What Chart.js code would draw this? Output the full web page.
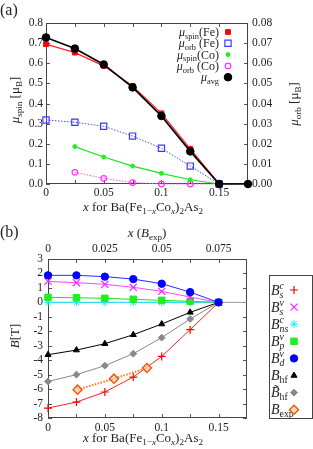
<!DOCTYPE html>
<html><head><meta charset="utf-8">
<script src="https://cdn.jsdelivr.net/npm/chart.js@4.4.0/dist/chart.umd.min.js"></script>
<style>
html,body{margin:0;padding:0;background:#fff;overflow:hidden;}
#wrapA{position:absolute;left:0;top:0;width:313px;height:215px;}
#wrapB{position:absolute;left:0;top:215px;width:313px;height:234px;}
canvas{display:block;}
</style></head><body>
<div id="wrapA"><canvas id="ca" width="313" height="215"></canvas></div>
<div id="wrapB"><canvas id="cb" width="313" height="234"></canvas></div>
<script>
// ---------- Panel (a) data ----------
const xA      = [0, 0.025, 0.05, 0.075, 0.1, 0.125, 0.15, 0.175];
const muAvg   = [0.728, 0.673, 0.594, 0.480, 0.338, 0.162, 0, 0];
const spinFe  = [0.695, 0.653, 0.587, 0.487, 0.351, 0.175, 0];
const orbFe   = [0.0318, 0.0307, 0.0287, 0.0238, 0.0178, 0.0089, 0];
const xCo     = [0.025, 0.05, 0.075, 0.1, 0.125, 0.15];
const spinCo  = [0.186, 0.134, 0.089, 0.053, 0.021, 0];
const orbCo   = [0.0058, 0.0028, 0.0007, 0, 0, 0];
const xTicksA  = [0, 0.025, 0.05, 0.075, 0.1, 0.125, 0.15];
const xLabelsA = [0, 0.05, 0.1, 0.15];
const yTicksA  = [0, 0.1, 0.2, 0.3, 0.4, 0.5, 0.6, 0.7, 0.8];
const y2TicksA = [0, 0.01, 0.02, 0.03, 0.04, 0.05, 0.06, 0.07, 0.08];

// ---------- Panel (b) data ----------
const xB    = [0, 0.025, 0.05, 0.075, 0.1, 0.125, 0.15];
const Bsc   = [-7.31, -6.90, -6.20, -5.17, -3.74, -1.89, 0];
const Bsv   = [1.45, 1.36, 1.25, 1.04, 0.76, 0.37, 0];
const Bnsc  = [0, 0, 0, 0, 0, 0, 0];
const Bpv   = [0.35, 0.32, 0.28, 0.21, 0.14, 0.07, 0];
const Bdv   = [1.87, 1.87, 1.78, 1.61, 1.29, 0.71, 0];
const Bhf   = [-3.62, -3.30, -2.86, -2.24, -1.50, -0.69, 0];
const BhfT  = [-5.47, -5.00, -4.38, -3.55, -2.44, -1.15, 0];
const xExp  = [0.013, 0.029, 0.0435];     // on the top axis x (B_exp)
const Bexp  = [-6.04, -5.28, -4.54];
const zeroX = [0, 0.175];
const zeroY = [0, 0];
const xTicksB     = [0, 0.025, 0.05, 0.075, 0.1, 0.125, 0.15];
const xLabelsB    = [0, 0.05, 0.1, 0.15];
const xTopTicksB  = [0, 0.0125, 0.025, 0.0375, 0.05, 0.0625, 0.075];
const xTopLabelsB = [0, 0.025, 0.05, 0.075];
const yTicksB     = [-8, -7, -6, -5, -4, -3, -2, -1, 0, 1, 2, 3];

// ---------- helpers ----------
const FAM = '"Liberation Serif", "DejaVu Serif", serif';
const TXT = '#222';
const pts = (xs, ys) => ys.map((y, i) => ({x: xs[i], y}));
const fmtNum = v => String(Math.round(v * 10000) / 10000);
const near = (v, arr) => arr.some(a => Math.abs(a - v) < 1e-9);
function fnt(s, it) { return (it ? 'italic ' : '') + s.toFixed(2) + 'px ' + FAM; }

function richLayout(ctx, segs, S) {
  const ops = []; let w = 0;
  for (const s of segs) {
    if (s.t !== undefined) {
      const f = fnt(S, s.i); ctx.font = f;
      ops.push({t: s.t, f, dx: w, dy: 0});
      w += ctx.measureText(s.t).width;
    } else {
      const ss = S * 0.7; let mw = 0;
      if (s.b !== undefined) { const f = fnt(ss, s.i); ctx.font = f; ops.push({t: s.b, f, dx: w, dy: S * 0.22}); mw = Math.max(mw, ctx.measureText(s.b).width); }
      if (s.p !== undefined) { const f = fnt(ss, s.i); ctx.font = f; ops.push({t: s.p, f, dx: w, dy: -S * 0.4}); mw = Math.max(mw, ctx.measureText(s.p).width); }
      w += mw;
    }
  }
  return {ops, w};
}
function drawRich(ctx, segs, x, y, S, align, rot) {
  ctx.save();
  ctx.translate(x, y);
  if (rot) ctx.rotate(rot);
  const L = richLayout(ctx, segs, S);
  const x0 = align === 'right' ? -L.w : (align === 'left' ? 0 : -L.w / 2);
  ctx.fillStyle = TXT; ctx.textAlign = 'left'; ctx.textBaseline = 'alphabetic';
  for (const o of L.ops) { ctx.font = o.f; ctx.fillText(o.t, x0 + o.dx, S * 0.33 + o.dy); }
  ctx.restore();
}
function drawMarker(ctx, ds, x, y) {
  ctx.save();
  ctx.fillStyle = ds.pointBackgroundColor || ds.backgroundColor;
  ctx.strokeStyle = ds.pointBorderColor || ds.borderColor;
  ctx.lineWidth = ds.pointBorderWidth || 1;
  Chart.helpers.drawPoint(ctx, {pointStyle: ds.pointStyle, radius: ds.pointRadius, rotation: 0, borderWidth: ds.pointBorderWidth || 1}, x, y);
  ctx.restore();
}

// Inward tick marks, plot frame, titles and legends
const decor = {
  id: 'decor',
  beforeDatasetsDraw(chart, args, opts) {
    const {ctx, chartArea: a, scales} = chart;
    ctx.save();
    ctx.strokeStyle = '#555'; ctx.lineWidth = 1;
    const L = 4;
    ctx.beginPath();
    for (const tk of opts.tickSides) {
      const sc = scales[tk.scale];
      for (const t of sc.ticks) {
        const p = Math.round(sc.getPixelForValue(t.value)) + 0.5;
        for (const side of tk.sides) {
          if (side === 'bottom') { ctx.moveTo(p, a.bottom); ctx.lineTo(p, a.bottom - L); }
          if (side === 'top')    { ctx.moveTo(p, a.top);    ctx.lineTo(p, a.top + L); }
          if (side === 'left')   { ctx.moveTo(a.left, p);   ctx.lineTo(a.left + L, p); }
          if (side === 'right')  { ctx.moveTo(a.right, p);  ctx.lineTo(a.right - L, p); }
        }
      }
    }
    ctx.stroke();
    ctx.strokeStyle = '#444';
    ctx.strokeRect(Math.round(a.left) + 0.5, Math.round(a.top) + 0.5, Math.round(a.right - a.left) - 1, Math.round(a.bottom - a.top) - 1);
    ctx.restore();
  },
  afterDraw(chart, args, opts) {
    const ctx = chart.ctx;
    for (const t of opts.titles) drawRich(ctx, t.segs, t.x, t.y, t.size, t.align || 'center', t.rot || 0);
    const lg = opts.legend;
    if (lg) {
      ctx.save();
      if (lg.box) {
        ctx.strokeStyle = '#444'; ctx.lineWidth = 1;
        ctx.strokeRect(lg.box[0] + 0.5, lg.box[1] + 0.5, lg.box[2], lg.box[3]);
      }
      lg.items.forEach((it, k) => {
        const y = lg.y0 + k * lg.dy;
        const ds = chart.data.datasets[it.ds];
        drawRich(ctx, it.segs, lg.textX, y, lg.size, lg.align, 0);
        drawMarker(ctx, ds, lg.markX, y);
      });
      ctx.restore();
    }
  }
};

function ticksFrom(arr) { return s => { s.ticks = arr.map(v => ({value: v})); }; }

Chart.defaults.font.family = FAM;
Chart.defaults.font.size = 11.5;
Chart.defaults.color = TXT;

const common = {
  responsive: false, animation: false, events: [],
  elements: {line: {tension: 0, fill: false}},
};
const noGrid = {display: false, drawTicks: false};

// ---------- Chart (a) ----------
const formulaSegs = [
  {t: 'x', i: 1}, {t: ' for Ba(Fe'}, {b: '1\u2212'}, {b: 'x', i: 1}, {t: 'Co'}, {b: 'x', i: 1},
  {t: ')'}, {b: '2'}, {t: 'As'}, {b: '2'}
];

new Chart(document.getElementById('ca'), {
  type: 'line',
  data: {
    datasets: [
      {label: 'avg', data: pts(xA, muAvg), yAxisID: 'y', borderColor: '#000', backgroundColor: '#000',
       pointBackgroundColor: '#000', pointBorderColor: '#000', borderWidth: 1.7, pointStyle: 'circle', pointRadius: 3.8, pointBorderWidth: 1, clip: false},
      {label: 'spinFe', data: pts(xA, spinFe), yAxisID: 'y', borderColor: '#ff2020', backgroundColor: '#ff0000',
       pointBackgroundColor: '#ff0000', pointBorderColor: '#ff0000', borderWidth: 1.2, pointStyle: 'rect', pointRadius: 3.4, pointBorderWidth: 1, clip: false},
      {label: 'orbFe', data: pts(xA, orbFe), yAxisID: 'y2', borderColor: '#4b4bff', backgroundColor: 'rgba(255,255,255,0)',
       pointBackgroundColor: 'rgba(255,255,255,0)', pointBorderColor: '#3a3aff', borderWidth: 1, borderDash: [1.5, 1.5],
       pointStyle: 'rect', pointRadius: 4.4, pointBorderWidth: 1.2, clip: false},
      {label: 'spinCo', data: pts(xCo, spinCo), yAxisID: 'y', borderColor: '#22dd22', backgroundColor: '#22ee22',
       pointBackgroundColor: '#22ee22', pointBorderColor: '#22ee22', borderWidth: 1.2, pointStyle: 'circle', pointRadius: 2, pointBorderWidth: 1, clip: false},
      {label: 'orbCo', data: pts(xCo, orbCo), yAxisID: 'y2', borderColor: '#ff55ff', backgroundColor: 'rgba(255,255,255,0)',
       pointBackgroundColor: 'rgba(255,255,255,0)', pointBorderColor: '#ff33ff', borderWidth: 1, borderDash: [1.5, 1.5],
       pointStyle: 'circle', pointRadius: 2.8, pointBorderWidth: 1.2, clip: false}
    ]
  },
  options: Object.assign({}, common, {
    layout: {padding: {top: 23, left: 0, right: 0, bottom: 0}},
    scales: {
      x: {type: 'linear', min: 0, max: 0.175, grid: noGrid, border: {display: false},
          afterBuildTicks: ticksFrom(xTicksA), afterFit: s => { s.height = 31; },
          ticks: {autoSkip: false, maxRotation: 0, padding: 2, callback: v => near(v, xLabelsA) ? fmtNum(v) : ''}},
      y: {type: 'linear', position: 'left', min: 0, max: 0.8, grid: noGrid, border: {display: false},
          afterBuildTicks: ticksFrom(yTicksA), afterFit: s => { s.width = 46; },
          ticks: {autoSkip: false, padding: 3, callback: v => v.toFixed(1)}},
      y2: {type: 'linear', position: 'right', min: 0, max: 0.08, grid: noGrid, border: {display: false},
          afterBuildTicks: ticksFrom(y2TicksA), afterFit: s => { s.width = 65; },
          ticks: {autoSkip: false, padding: 4, callback: v => v.toFixed(2)}}
    },
    plugins: {
      legend: {display: false}, tooltip: {enabled: false},
      decor: {
        tickSides: [{scale: 'x', sides: ['bottom', 'top']}, {scale: 'y', sides: ['left']}, {scale: 'y2', sides: ['right']}],
        titles: [
          {segs: [{t: '(a)'}], x: 0, y: 10, size: 16, align: 'left'},
          {segs: [{t: '\u03bc', i: 1}, {b: 'spin'}, {t: ' [\u03bc', i: 0}, {b: 'B'}, {t: ']'}], x: 15, y: 100, size: 13, rot: -Math.PI / 2},
          {segs: [{t: '\u03bc', i: 1}, {b: 'orb'}, {t: ' [\u03bc'}, {b: 'B'}, {t: ']'}], x: 294, y: 104, size: 13, rot: -Math.PI / 2},
          {segs: formulaSegs, x: 143, y: 207, size: 13}
        ],
        legend: {
          textX: 219, markX: 228, y0: 32, dy: 11.3, size: 12, align: 'right',
          items: [
            {ds: 1, segs: [{t: '\u03bc', i: 1}, {b: 'spin'}, {t: '(Fe)'}]},
            {ds: 2, segs: [{t: '\u03bc', i: 1}, {b: 'orb'}, {t: ' (Fe)'}]},
            {ds: 3, segs: [{t: '\u03bc', i: 1}, {b: 'spin'}, {t: '(Co)'}]},
            {ds: 4, segs: [{t: '\u03bc', i: 1}, {b: 'orb'}, {t: ' (Co)'}]},
            {ds: 0, segs: [{t: '\u03bc', i: 1}, {b: 'avg'}]}
          ]
        }
      }
    }
  }),
  plugins: [decor]
});

// ---------- Chart (b) ----------
new Chart(document.getElementById('cb'), {
  type: 'line',
  data: {
    datasets: [
      {label: 'Bdv', data: pts(xB, Bdv), borderColor: '#2a2aff', backgroundColor: '#0000ff', pointBackgroundColor: '#0000ff', pointBorderColor: '#0000ff',
       borderWidth: 1, pointStyle: 'circle', pointRadius: 3.7, pointBorderWidth: 1, clip: false},
      {label: 'Bsv', data: pts(xB, Bsv), borderColor: '#ff44ff', backgroundColor: '#ff22ff', pointBackgroundColor: '#ff22ff', pointBorderColor: '#ff22ff',
       borderWidth: 1, pointStyle: 'crossRot', pointRadius: 5, pointBorderWidth: 1.2, clip: false},
      {label: 'Bpv', data: pts(xB, Bpv), borderColor: '#22dd22', backgroundColor: '#22ee22', pointBackgroundColor: '#22ee22', pointBorderColor: '#22ee22',
       borderWidth: 1, pointStyle: 'rect', pointRadius: 4.6, pointBorderWidth: 1, clip: false},
      {label: 'Bnsc', data: pts(xB, Bnsc), borderColor: '#22e5ff', backgroundColor: '#22e5ff', pointBackgroundColor: '#22e5ff', pointBorderColor: '#22e5ff',
       borderWidth: 1, pointStyle: 'star', pointRadius: 4, pointBorderWidth: 1, clip: false},
      {label: 'Bexp', data: pts(xExp, Bexp), xAxisID: 'x2', borderColor: '#ff7a20', backgroundColor: 'rgba(255,200,160,0.6)',
       pointBackgroundColor: 'rgba(255,210,170,0.7)', pointBorderColor: '#f05a10', borderWidth: 2, borderDash: [1.5, 1.5],
       pointStyle: 'rectRot', pointRadius: 4.5, pointBorderWidth: 1.5, clip: false},
      {label: 'Bhf', data: pts(xB, Bhf), borderColor: '#000', backgroundColor: '#000', pointBackgroundColor: '#000', pointBorderColor: '#000',
       borderWidth: 1, pointStyle: 'triangle', pointRadius: 3.5, pointBorderWidth: 1, clip: false},
      {label: 'BhfT', data: pts(xB, BhfT), borderColor: '#888', backgroundColor: '#888', pointBackgroundColor: '#888', pointBorderColor: '#888',
       borderWidth: 1, pointStyle: 'rectRot', pointRadius: 3.4, pointBorderWidth: 1, clip: false},
      {label: 'Bsc', data: pts(xB, Bsc), borderColor: '#ff2020', backgroundColor: '#ff0000', pointBackgroundColor: '#ff0000', pointBorderColor: '#ff0000',
       borderWidth: 1, pointStyle: 'cross', pointRadius: 4, pointBorderWidth: 1.2, clip: false},
      {label: 'zero', data: pts(zeroX, zeroY), borderColor: '#999', borderWidth: 1, pointRadius: 0, clip: false}
    ]
  },
  options: Object.assign({}, common, {
    layout: {padding: {top: 0, left: 0, right: 66, bottom: 0}},
    scales: {
      x: {type: 'linear', position: 'bottom', min: 0, max: 0.175, grid: noGrid, border: {display: false},
          afterBuildTicks: ticksFrom(xTicksB), afterFit: s => { s.height = 31; },
          ticks: {autoSkip: false, maxRotation: 0, padding: 3, callback: v => near(v, xLabelsB) ? fmtNum(v) : ''}},
      x2: {type: 'linear', position: 'top', min: 0, max: 0.0875, grid: noGrid, border: {display: false},
          afterBuildTicks: ticksFrom(xTopTicksB), afterFit: s => { s.height = 44; },
          ticks: {autoSkip: false, maxRotation: 0, padding: 3, callback: v => near(v, xTopLabelsB) ? fmtNum(v) : ''}},
      y: {type: 'linear', position: 'left', min: -8, max: 3, grid: noGrid, border: {display: false},
          afterBuildTicks: ticksFrom(yTicksB), afterFit: s => { s.width = 48; },
          ticks: {autoSkip: false, padding: 5, callback: v => String(v)}}
    },
    plugins: {
      legend: {display: false}, tooltip: {enabled: false},
      decor: {
        tickSides: [{scale: 'x', sides: ['bottom']}, {scale: 'x2', sides: ['top']}, {scale: 'y', sides: ['left', 'right']}],
        titles: [
          {segs: [{t: '(b)'}], x: 0, y: 17, size: 16, align: 'left'},
          {segs: [{t: 'x', i: 1}, {t: ' ('}, {t: 'B', i: 1}, {b: 'exp'}, {t: ')'}], x: 147, y: 18, size: 13},
          {segs: [{t: 'B', i: 1}, {t: '[T]'}], x: 15, y: 121, size: 13, rot: -Math.PI / 2},
          {segs: formulaSegs, x: 143, y: 223, size: 13}
        ],
        legend: {
          box: [269, 60, 43, 143],
          textX: 271, markX: 294, y0: 75, dy: 17.1, size: 14, align: 'left',
          items: [
            {ds: 7, segs: [{t: 'B', i: 1}, {b: 's', p: 'c', i: 1}]},
            {ds: 1, segs: [{t: 'B', i: 1}, {b: 's', p: 'v', i: 1}]},
            {ds: 3, segs: [{t: 'B', i: 1}, {b: 'ns', p: 'c', i: 1}]},
            {ds: 2, segs: [{t: 'B', i: 1}, {b: 'p', p: 'v', i: 1}]},
            {ds: 0, segs: [{t: 'B', i: 1}, {b: 'd', p: 'v', i: 1}]},
            {ds: 5, segs: [{t: 'B', i: 1}, {b: 'hf'}]},
            {ds: 6, segs: [{t: 'B\u0303', i: 1}, {b: 'hf'}]},
            {ds: 4, segs: [{t: 'B', i: 1}, {b: 'exp'}]}
          ]
        }
      }
    }
  }),
  plugins: [decor]
});
</script>
</body></html>
